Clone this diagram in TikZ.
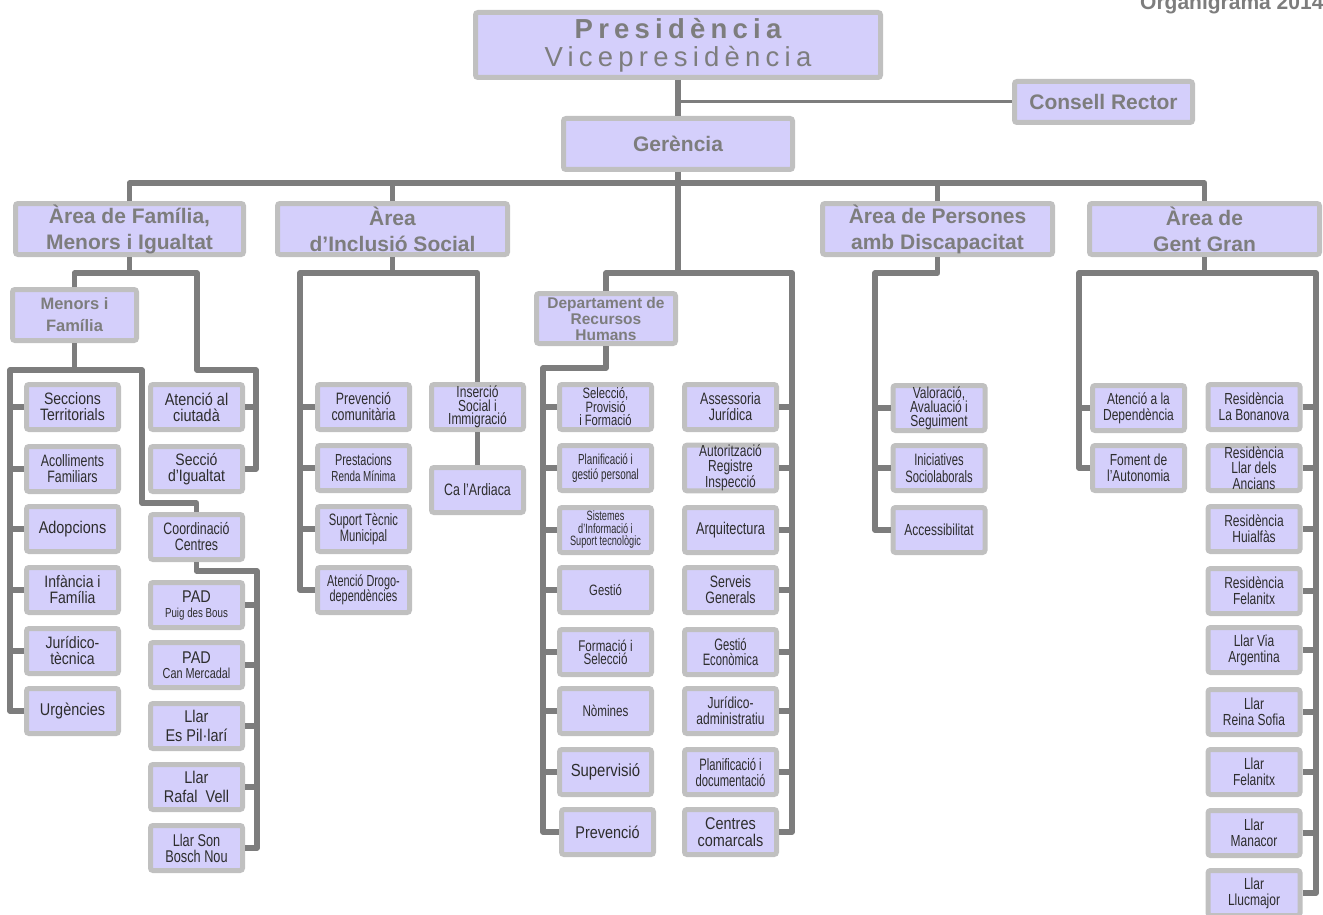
\documentclass[tikz,border=0pt]{standalone}
\usepackage{fontspec}
\setmainfont{Liberation Sans}
\newfontfamily\nar[FakeStretch=0.85]{Liberation Sans}
\newfontfamily\narr[FakeStretch=0.75]{Liberation Sans}
\newfontfamily\narrr[FakeStretch=0.68]{Liberation Sans}
\newfontfamily\spc[LetterSpace=19]{Liberation Sans}
\newcommand\fz[2]{\fontsize{#1}{#2}\selectfont}
\definecolor{boxc}{RGB}{212,207,251}
\definecolor{bordc}{RGB}{192,192,192}
\definecolor{lnc}{RGB}{125,125,125}
\definecolor{hdc}{RGB}{125,125,125}
\definecolor{txtd}{RGB}{45,45,45}
\tikzset{
  bx/.style={draw=bordc, fill=boxc, line width=5pt, rounded corners=2.5pt, inner sep=0pt, align=center},
  sm/.style={bx, minimum width=92pt, minimum height=45pt, text=txtd, font=\nar\fz{16.5}{16}},
  hd/.style={bx, text=hdc, font=\bfseries\fz{21}{26}},
  ar/.style={hd, minimum width=230pt, minimum height=51pt},
  ln/.style={draw=lnc, line width=5.5pt, line join=round},
}
\begin{document}
\begin{tikzpicture}[x=1pt,y=-1pt]
\useasboundingbox (0,0) rectangle (1323,915);
% title
\node[anchor=base west, text=hdc, font=\bfseries\fz{21}{21}, inner sep=0pt] (ttl) at (1140,10) {Organigrama 2014};
% top
\node[bx, minimum width=405pt, minimum height=65pt, text=hdc, font=\fz{27.5}{28}] (pres) at (678,45) {{\spc\bfseries Presidència}\\{\spc Vicepresidència}};
\node[hd, minimum width=178pt, minimum height=41pt] (cons) at (1103.5,102) {Consell Rector};
\node[hd, minimum width=229pt, minimum height=51pt] (ger) at (678,144) {Gerència};
% areas
\node[ar, minimum width=228pt] (fam) at (129.5,229) {Àrea de Família,\\Menors i Igualtat};
\node[ar] (incl) at (392.5,229) {Àrea\\d’Inclusió Social};
\node[ar] (pers) at (937.5,229) {Àrea de Persones\\amb Discapacitat};
\node[ar] (gent) at (1204.5,229) {Àrea de\\Gent Gran};
\node[hd, minimum width=124pt, minimum height=51pt, font=\bfseries\fz{16.5}{22}] (men) at (74.5,315) {Menors i\\Família};
\node[hd, minimum width=139pt, minimum height=50pt, font=\bfseries\fz{15.5}{16}] (rh) at (606,318.5) {Departament de\\Recursos\\Humans};
% family left column
\node[sm] (sect) at (72.5,407) {Seccions\\Territorials};
\node[sm, font=\narr\fz{16.5}{16}] (acol) at (72.5,469) {Acolliments\\Familiars};
\node[sm, font=\nar\fz{17}{16}] (adop) at (72.5,529) {Adopcions};
\node[sm] (inf) at (72.5,590) {Infància i\\Família};
\node[sm] (jur) at (72.5,651) {Jurídico-\\tècnica};
\node[sm, font=\nar\fz{17}{16}] (urg) at (72.5,711) {Urgències};
% family middle column
\node[sm, font=\nar\fz{17}{16}] (ate) at (196.5,407) {Atenció al\\ciutadà};
\node[sm] (igu) at (196.5,469) {Secció\\d’Igualtat};
\node[sm, font=\narr\fz{16.5}{16}] (coo) at (196.5,537) {Coordinació\\Centres};
\node[sm, font=\nar\fz{17}{15}] (pad1) at (196.5,605) {PAD\\{\narr\fz{13}{14}Puig des Bous}};
\node[sm, font=\nar\fz{17}{15}] (pad2) at (196.5,665) {PAD\\{\narr\fz{14.5}{14}Can Mercadal}};
\node[sm, font=\nar\fz{17}{19}] (pil) at (196.5,726) {Llar\\Es Pil·larí};
\node[sm, font=\nar\fz{17}{19}] (raf) at (196.5,787) {Llar\\Rafal\ \ Vell};
\node[sm, font=\narr\fz{17}{16}] (sbn) at (196.5,848) {Llar Son\\Bosch Nou};
% inclusio
\node[sm, font=\narr\fz{16.5}{16}] (prc) at (363.5,407) {Prevenció\\comunitària};
\node[sm, font=\narrr\fz{16}{16}] (pre) at (363.5,468) {Prestacions\\{\fz{14.5}{16}Renda Mínima}};
\node[sm, font=\narrr\fz{16.5}{16}] (sut) at (363.5,529) {Suport Tècnic\\Municipal};
\node[sm, font=\narrr\fz{16}{15.5}] (dro) at (363.5,590) {Atenció Drogo-\\dependències};
\node[sm, font=\narr\fz{16}{13.5}] (ins) at (477.5,407) {Inserció\\Social i\\Immigració};
\node[sm, font=\narr\fz{16.5}{16}] (ard) at (477.5,490) {Ca l’Ardiaca};
% RH left
\node[sm, font=\narr\fz{15}{13.5}] (sel) at (605.5,407) {Selecció,\\Provisió\\i Formació};
\node[sm, font=\narrr\fz{14.5}{15.5}] (plan) at (605.5,468) {Planificació i\\gestió personal};
\node[sm, font=\narrr\fz{13.5}{12.5}] (sis) at (605.5,530) {Sistemes\\d’Informació i\\Suport tecnològic};
\node[sm, font=\narr\fz{15}{15}] (ges) at (605.5,590) {Gestió};
\node[sm, font=\narr\fz{15.5}{13}] (for) at (605.5,652) {Formació i\\Selecció};
\node[sm, font=\narr\fz{15.5}{15}] (nom) at (605.5,711) {Nòmines};
\node[sm, font=\nar\fz{17.5}{17}] (sup) at (605.5,772) {Supervisió};
\node[sm, font=\nar\fz{17}{17}] (prv) at (607.5,832) {Prevenció};
% RH right
\node[sm, font=\narr\fz{16.5}{16}] (ass) at (730.5,407) {Assessoria\\Jurídica};
\node[sm, font=\narr\fz{16}{14.5}] (aut) at (730.5,468) {Autorització\\Registre\\Inspecció};
\node[sm, font=\narr\fz{17}{16}] (arq) at (730.5,530) {Arquitectura};
\node[sm, font=\narr\fz{16.5}{16}] (ser) at (730.5,590) {Serveis\\Generals};
\node[sm, font=\narrr\fz{16.5}{16}] (gec) at (730.5,652) {Gestió\\Econòmica};
\node[sm, font=\narr\fz{16}{16}] (jad) at (730.5,711) {Jurídico-\\administratiu};
\node[sm, font=\narrr\fz{16.5}{16}] (pdo) at (730.5,772) {Planificació i\\documentació};
\node[sm, font=\nar\fz{17}{16.5}] (ccom) at (730.5,832) {Centres\\comarcals};
% persones
\node[sm, font=\narr\fz{16}{13.5}] (val) at (939,408) {Valoració,\\Avaluació i\\Seguiment};
\node[sm, font=\narrr\fz{16.5}{17}] (ini) at (939,468) {Iniciatives\\Sociolaborals};
\node[sm, font=\narr\fz{16}{16}] (accs) at (939,530) {Accessibilitat};
% gent gran
\node[sm, font=\narr\fz{16}{16}] (atd) at (1138.5,408) {Atenció a la\\Dependència};
\node[sm, font=\narr\fz{16}{16}] (fom) at (1138.5,468) {Foment de\\l’Autonomia};
\node[sm, font=\narr\fz{16}{16}] (rbo) at (1254,407) {Residència\\La Bonanova};
\node[sm, font=\narr\fz{16}{15.5}] (rll) at (1254,468) {Residència\\Llar dels\\Ancians};
\node[sm, font=\narr\fz{16}{16}] (rhu) at (1254,529) {Residència\\Huialfàs};
\node[sm, font=\narr\fz{16}{16}] (rfe) at (1254,591) {Residència\\Felanitx};
\node[sm, font=\narr\fz{16}{16}] (lva) at (1254,650) {Llar Via\\Argentina};
\node[sm, font=\narr\fz{16}{16}] (lrs) at (1254,712) {Llar\\Reina Sofia};
\node[sm, font=\narr\fz{16}{16}] (lfe) at (1254,772) {Llar\\Felanitx};
\node[sm, font=\narr\fz{16}{16}] (lma) at (1254,833) {Llar\\Manacor};
\node[sm, font=\narr\fz{16}{16}] (llu) at (1254,893) {Llar\\Llucmajor};
% ---------- connectors
\coordinate (busY) at (0,183);
\coordinate (lvl) at (0,273);
\draw[ln] (pres.south) -- (ger.north);
\draw[ln, line width=3pt] (pres.south |- cons.west) -- (cons.west);
\draw[ln] (fam.north) |- (gent.north |- busY) -- (gent.north);
\draw[ln] (incl.north) -- (incl.north |- busY);
\draw[ln] (pers.north) -- (pers.north |- busY);
\draw[ln] (ger.south) -- (ger.south |- busY);
% RH
\coordinate (rhr) at (792,273);
\coordinate (rhl) at (543,368);
\draw[ln] (ger.south |- busY) -- (ger.south |- lvl);
\draw[ln] (rh.north) |- (rhr) |- (ccom.east);
\draw[ln] (rh.south) |- (rhl) |- (prv.west);
\foreach \n in {sel,plan,sis,ges,for,nom,sup} \draw[ln] (\n.west) -- (\n.west -| rhl);
\foreach \n in {ass,aut,arq,ser,gec,jad,pdo} \draw[ln] (\n.east) -- (\n.east -| rhr);
% family
\coordinate (f1) at (197,273);
\coordinate (f2) at (197,370);
\coordinate (f3) at (256,370);
\draw[ln] (fam.south) -- (fam.south |- lvl);
\draw[ln] (men.north) |- (f1) -- (f2) -- (f3) |- (igu.east);
\draw[ln] (ate.east) -- (ate.east -| f3);
\coordinate (m1) at (10,370);
\coordinate (m2) at (142,370);
\coordinate (m3) at (142,503);
\draw[ln] (men.south) -- (men.south |- m1);
\draw[ln] (urg.west) -| (m1) -- (m2) -- (m3) -| (coo.north);
\foreach \n in {sect,acol,adop,inf,jur} \draw[ln] (\n.west) -- (\n.west -| m1);
\coordinate (c1) at (257,571);
\draw[ln] (coo.south) |- (c1) |- (sbn.east);
\foreach \n in {pad1,pad2,pil,raf} \draw[ln] (\n.east) -- (\n.east -| c1);
% inclusio
\coordinate (i1) at (300,273);
\draw[ln] (incl.south) -- (incl.south |- lvl);
\draw[ln] (dro.west) -| (i1) -| (ins.north);
\foreach \n in {prc,pre,sut} \draw[ln] (\n.west) -- (\n.west -| i1);
\draw[ln] (ins.south) -- (ard.north);
% persones
\coordinate (p1) at (875,273);
\draw[ln] (pers.south) |- (p1) |- (accs.west);
\foreach \n in {val,ini} \draw[ln] (\n.west) -- (\n.west -| p1);
% gent gran
\coordinate (g1) at (1079,273);
\coordinate (g2) at (1316,273);
\draw[ln] (gent.south) -- (gent.south |- lvl);
\draw[ln] (fom.west) -| (g1) -- (g2) |- (llu.east);
\draw[ln] (atd.west) -- (atd.west -| g1);
\foreach \n in {rbo,rll,rhu,rfe,lva,lrs,lfe,lma} \draw[ln] (\n.east) -- (\n.east -| g2);
\end{tikzpicture}
\end{document}
